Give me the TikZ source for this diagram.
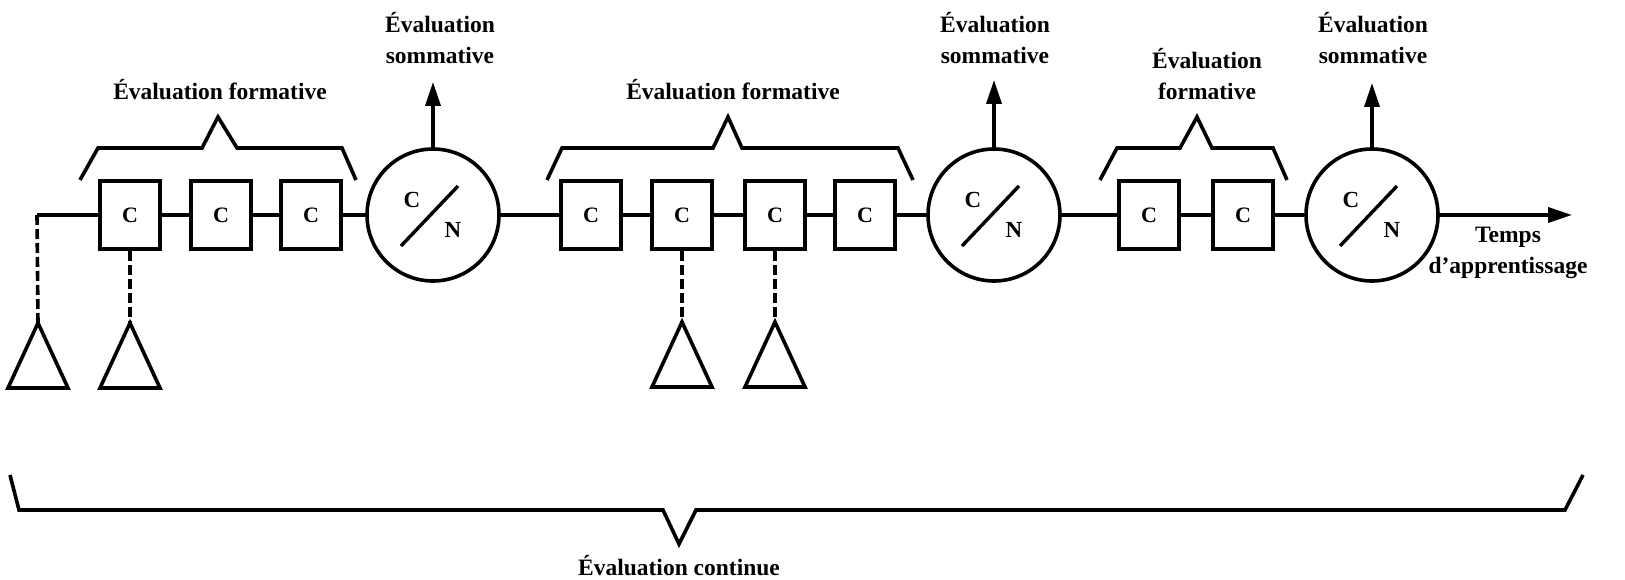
\documentclass[tikz,border=0pt]{standalone}
\usepackage{fontspec}
\setmainfont{Liberation Serif}
\usetikzlibrary{arrows.meta}
\begin{document}
\begin{tikzpicture}[x=1pt,y=-1pt,
  line width=3.6pt,
  cbox/.style={draw, minimum width=60pt, minimum height=68pt, inner sep=0pt, font=\bfseries\fontsize{22}{22}\selectfont},
  cn/.style={draw, circle, minimum size=132pt, inner sep=0pt},
  cnl/.style={font=\bfseries\fontsize{23}{23}\selectfont, inner sep=0pt},
  lbl/.style={font=\bfseries\fontsize{23.5}{31}\selectfont, align=center, inner sep=0pt},
  dashl/.style={dash pattern=on 10pt off 4pt},
  arr/.style={-{Triangle[length=24pt,width=15pt]}},
  tri/.style={line join=miter},
]
\useasboundingbox (0,0) rectangle (1625,580);

% main chain
\coordinate (s) at (37,215);
\node[cbox] (c1) at (130,215) {C};
\node[cbox] (c2) at (221,215) {C};
\node[cbox] (c3) at (311,215) {C};
\node[cn] (n1) at (433,215) {};
\node[cbox] (c4) at (591,215) {C};
\node[cbox] (c5) at (682,215) {C};
\node[cbox] (c6) at (775,215) {C};
\node[cbox] (c7) at (865,215) {C};
\node[cn] (n2) at (994,215) {};
\node[cbox] (c8) at (1149,215) {C};
\node[cbox] (c9) at (1243,215) {C};
\node[cn] (n3) at (1372,215) {};
\coordinate (e) at (1572,215);

\draw (s) -- (c1) -- (c2) -- (c3) -- (n1) -- (c4) -- (c5) -- (c6) -- (c7) -- (n2) -- (c8) -- (c9) -- (n3);
\draw[arr] (n3) -- (e);

% circle contents
\foreach \n in {n1,n2,n3}{
  \node[cnl] at ([shift={(-21,-15)}]\n.center) {C};
  \node[cnl] at ([shift={(20,15)}]\n.center) {N};
  \draw[line width=3.4pt] ([shift={(-32,31)}]\n.center) -- ([shift={(25,-29)}]\n.center);
}

% upward arrows and labels
\coordinate (u1) at (433,82);
\coordinate (u2) at (994,80);
\coordinate (u3) at (1372,83);
\draw[arr] (n1) -- (u1);
\draw[arr] (n2) -- (u2);
\draw[arr] (n3) -- (u3);
\node[lbl] (s1) at (440,38) {Évaluation\\sommative};
\node[lbl] (s2) at (995,38) {Évaluation\\sommative};
\node[lbl] (s3) at (1373,38) {Évaluation\\sommative};

% formative brackets
\draw (80,180) -- (98,148) -- (202,148) -- (218,117) -- (237,148) -- (342,148) -- (356,180);
\draw (547,180) -- (562,148) -- (713,148) -- (728,117) -- (742,148) -- (898,148) -- (913,180);
\draw (1100,180) -- (1117,148) -- (1180,148) -- (1197,117) -- (1212,148) -- (1273,148) -- (1287,180);
\node[lbl, anchor=base] (f1) at (220,100) {Évaluation formative};
\node[lbl, anchor=base] (f2) at (733,100) {Évaluation formative};
\node[lbl] (f3) at (1207,74) {Évaluation\\formative};

% time label
\node[lbl] (tp) at (1508,253) {Temps\\d’apprentissage};

% triangles and dashed links
\coordinate (t1) at (38,323);
\coordinate (t2) at (130,323);
\coordinate (t3) at (682,322);
\coordinate (t4) at (775,322);
\foreach \t in {t1,t2,t3,t4}{
  \draw[tri] (\t) -- ++(-30,65) -- ++(60,0) -- cycle;
}
\draw[dashl] (s) -- (t1);
\draw[dashl] (c1) -- (t2);
\draw[dashl] (c5) -- (t3);
\draw[dashl] (c6) -- (t4);

% continuous evaluation bracket
\draw (10,475) -- (19,510) -- (663,510) -- (679,544) -- (696,510) -- (1565,510) -- (1583,475);
\node[lbl, anchor=base] (ec) at (679,575) {Évaluation continue};
\end{tikzpicture}
\end{document}
